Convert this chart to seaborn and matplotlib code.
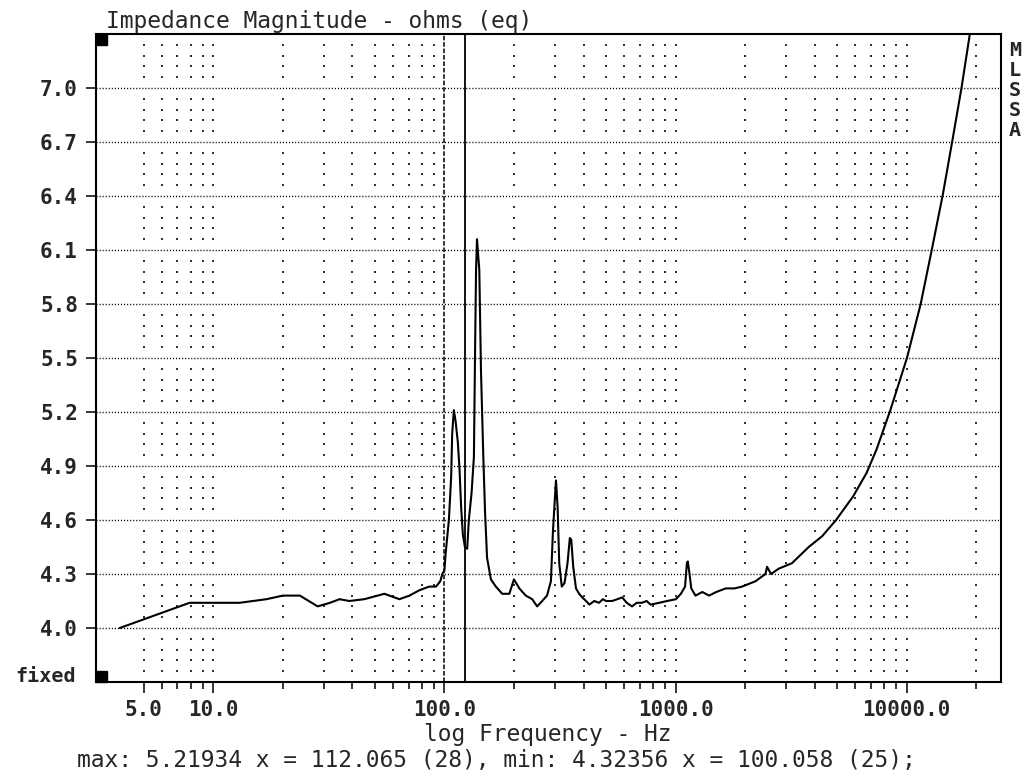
import numpy as np
import pandas as pd
import matplotlib
matplotlib.use("Agg")
import matplotlib.pyplot as plt
import seaborn as sns
from matplotlib.ticker import FixedLocator, NullFormatter

# ---------------- data ----------------
freq_hz = [3.94, 7.9, 13, 17, 20, 23.7, 28.3, 32, 35.2, 38.8, 45, 55, 63.9, 70.6, 78, 86, 92, 96, 98,
           100.06, 101.2, 104.6, 107.0, 108.1, 109.9, 111.8, 114.4, 116.3, 118.2, 120.2, 122.7, 125.5,
           127.6, 131.1, 134.2, 136.0, 137.1, 138.4, 139.5, 141.6, 144, 147.4, 150, 153, 159, 167,
           178, 191, 200,
           211, 225, 240, 252, 265, 278, 289, 295, 301, 304, 309, 314, 322, 331, 341, 349, 354, 361,
           371, 383, 395, 410, 424, 445, 467, 485, 500, 532, 560, 588, 615, 648, 680, 715, 750, 780,
           850, 920, 1004, 1055, 1100, 1120, 1130, 1150, 1170, 1220, 1306, 1397, 1500, 1650, 1800,
           1940, 2220, 2450, 2490, 2590, 2800, 3190, 3770, 4310, 4950, 5860, 6700, 7400, 8500,
           10030, 11500, 12840, 14350, 15780, 17270, 18770]
impedance_ohm = [4.00, 4.14, 4.14, 4.16, 4.18, 4.18, 4.12, 4.14, 4.16, 4.15, 4.16, 4.19, 4.16, 4.18,
                 4.21, 4.23, 4.23, 4.26, 4.30,
                 4.32, 4.41, 4.60, 4.84, 5.08, 5.21, 5.15, 5.03, 4.88, 4.67, 4.52, 4.45, 4.44,
                 4.60, 4.75, 4.95, 5.62, 5.99, 6.16, 6.10, 5.99, 5.43, 4.95, 4.64, 4.39, 4.27, 4.23,
                 4.19, 4.19, 4.27,
                 4.22, 4.18, 4.16, 4.12, 4.15, 4.18, 4.26, 4.54, 4.73, 4.82, 4.67, 4.36, 4.23, 4.25,
                 4.36, 4.50, 4.49, 4.34,
                 4.22, 4.19, 4.17, 4.15, 4.13, 4.15, 4.14, 4.16, 4.15, 4.15, 4.16, 4.17, 4.14, 4.12,
                 4.14, 4.14, 4.15, 4.13,
                 4.14, 4.15, 4.16, 4.19, 4.23, 4.36, 4.37, 4.30, 4.22, 4.18, 4.20, 4.18, 4.20, 4.22,
                 4.22,
                 4.23, 4.26, 4.30, 4.34, 4.30, 4.33, 4.36, 4.45, 4.51, 4.60, 4.73, 4.86, 4.99, 5.21,
                 5.50, 5.80, 6.10, 6.41, 6.71, 7.00, 7.30]

cursor_hz = [100.058, 123.0]            # dashed (min) cursor, solid cursor
y_ticks = [4.0, 4.3, 4.6, 4.9, 5.2, 5.5, 5.8, 6.1, 6.4, 6.7, 7.0]
y_tick_labels = ["4.0", "4.3", "4.6", "4.9", "5.2", "5.5", "5.8", "6.1", "6.4", "6.7", "7.0"]
x_major = [5, 10, 100, 1000, 10000]
x_major_labels = ["5.0", "10.0", "100.0", "1000.0", "10000.0"]
x_minor = [6, 7, 8, 9, 20, 30, 40, 50, 60, 70, 80, 90, 200, 300, 400, 500, 600, 700, 800, 900,
           2000, 3000, 4000, 5000, 6000, 7000, 8000, 9000, 20000]
x_grid = [5, 6, 7, 8, 9, 10, 20, 30, 40, 50, 60, 70, 80, 90, 200, 300, 400, 500, 600, 700, 800,
          900, 1000, 2000, 3000, 4000, 5000, 6000, 7000, 8000, 9000, 10000, 20000]

title = "Impedance Magnitude - ohms (eq)"
x_label = "log Frequency - Hz"
status = "max: 5.21934 x = 112.065 (28), min: 4.32356 x = 100.058 (25);"
brand = ["M", "L", "S", "S", "A"]

# ---------------- figure ----------------
sns.set_style("white")
plt.rcParams["font.family"] = ["DejaVu Sans Mono", "DejaVu Sans"]

W, H = 1029, 776
fig = plt.figure(figsize=(W / 100, H / 100), dpi=100)
L, R, T, B = 96, 1001, 34, 682
ax = fig.add_axes([L / W, 1 - B / H, (R - L) / W, (B - T) / H])

ax.set_xscale("log")
ax.set_xlim(3.11, 25600)
ax.set_ylim(3.7, 7.3)

# dotted grid: fine horizontal lines at major y, dot columns at grid freqs
for yv in y_ticks:
    ax.axhline(yv, color="black", lw=1.0, ls=(0, (0.8, 1.4)), zorder=1)
minor_rows = [v for v in np.round(np.arange(3.76, 7.3, 0.06), 2)
              if not any(abs(v - t) < 1e-6 for t in y_ticks)]
gx, gy = np.meshgrid(x_grid, minor_rows)
ax.scatter(gx.ravel(), gy.ravel(), s=2.2, marker="s", color="#333333", linewidths=0, zorder=1)

# cursors
ax.axvline(cursor_hz[0], color="black", lw=1.1, ls=(0, (3, 1.2)), zorder=2)
ax.axvline(cursor_hz[1], color="black", lw=1.3, zorder=2)

df = pd.DataFrame({"freq": freq_hz, "imp": impedance_ohm})
sns.lineplot(data=df, x="freq", y="imp", ax=ax, color="black", lw=1.5,
             estimator=None, sort=True, zorder=3)

ax.set_xlabel("")
ax.set_ylabel("")

# ticks
ax.xaxis.set_major_locator(FixedLocator(x_major))
ax.set_xticklabels(x_major_labels)
ax.xaxis.set_minor_locator(FixedLocator(x_minor))
ax.xaxis.set_minor_formatter(NullFormatter())
ax.set_yticks(y_ticks)
ax.set_yticklabels(y_tick_labels)
ax.tick_params(axis="x", which="major", direction="out", length=8, width=1.3, pad=5,
               labelsize=15, bottom=True)
ax.tick_params(axis="x", which="minor", direction="out", length=5, width=1.3, bottom=True)
ax.tick_params(axis="y", which="major", direction="out", length=7, width=1.3, pad=6,
               labelsize=15, left=True)
for lab in ax.get_xticklabels() + ax.get_yticklabels():
    lab.set_fontweight("bold")

for sp in ax.spines.values():
    sp.set_visible(True)
    sp.set_color("black")
    sp.set_linewidth(1.5)

# corner markers
ax.add_patch(plt.Rectangle((0, 1), 11 / (R - L), -11 / (B - T), transform=ax.transAxes,
                           color="black", zorder=5, clip_on=False))
ax.add_patch(plt.Rectangle((0, 0), 11 / (R - L), 11 / (B - T), transform=ax.transAxes,
                           color="black", zorder=5, clip_on=False))

# texts
fig.text(106 / W, 1 - 28 / H, title, fontsize=16.5, va="baseline", ha="left")
fig.text(548 / W, 1 - 741 / H, x_label, fontsize=16.5, va="baseline", ha="center")
fig.text(77 / W, 1 - 767 / H, status, fontsize=16.5, va="baseline", ha="left")
fig.text(76 / W, 1 - 677 / H, "fixed", fontsize=14.5, fontweight="bold", va="center", ha="right")
for i, ch in enumerate(brand):
    fig.text(1015 / W, 1 - (51 + 20 * i) / H, ch, fontsize=14.5, fontweight="bold",
             va="center", ha="center")

fig.savefig("out.png", dpi=100, facecolor="white")
